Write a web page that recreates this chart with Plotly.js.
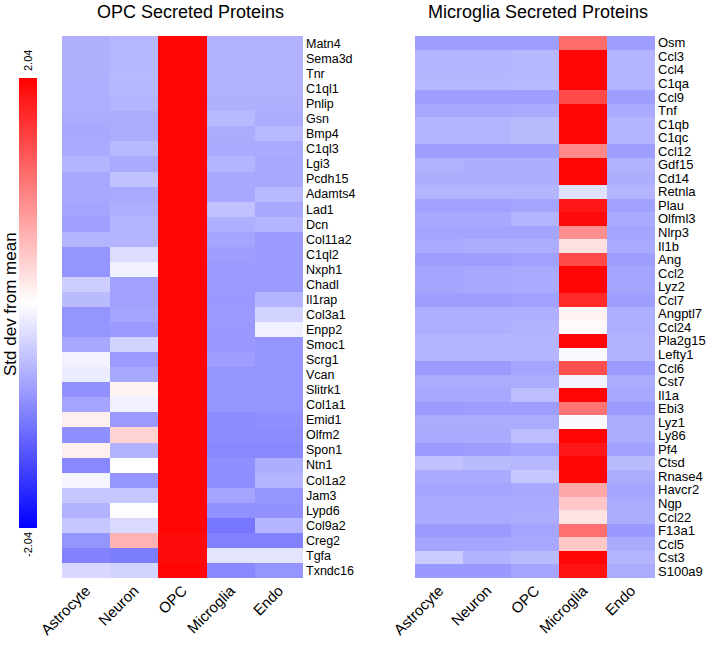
<!DOCTYPE html>
<html><head><meta charset="utf-8">
<script src="https://cdn.plot.ly/plotly-3.0.1.min.js"></script>
<style>html,body{margin:0;padding:0;background:#fff}#c{width:709px;height:646px}</style>
</head><body><div id="c"></div>
<script>
const cellTypes = ["Astrocyte","Neuron","OPC","Microglia","Endo"];

const opcGenes = ["Matn4","Sema3d","Tnr","C1ql1","Pnlip","Gsn","Bmp4","C1ql3","Lgi3","Pcdh15","Adamts4","Lad1","Dcn","Col11a2","C1ql2","Nxph1","Chadl","Il1rap","Col3a1","Enpp2","Smoc1","Scrg1","Vcan","Slitrk1","Col1a1","Emid1","Olfm2","Spon1","Ntn1","Col1a2","Jam3","Lypd6","Col9a2","Creg2","Tgfa","Txndc16"];
const opcValues = [
[-0.63,-0.58,2.0,-0.62,-0.62],
[-0.63,-0.58,2.0,-0.62,-0.62],
[-0.63,-0.57,2.0,-0.62,-0.62],
[-0.64,-0.58,2.0,-0.62,-0.62],
[-0.64,-0.60,2.0,-0.63,-0.63],
[-0.66,-0.66,2.0,-0.56,-0.66],
[-0.70,-0.66,2.0,-0.66,-0.56],
[-0.68,-0.56,2.0,-0.68,-0.68],
[-0.60,-0.68,2.0,-0.60,-0.70],
[-0.70,-0.50,2.0,-0.70,-0.70],
[-0.70,-0.68,2.0,-0.70,-0.56],
[-0.72,-0.64,2.0,-0.50,-0.70],
[-0.76,-0.60,2.0,-0.64,-0.60],
[-0.60,-0.60,2.0,-0.72,-0.80],
[-0.85,-0.28,2.0,-0.78,-0.80],
[-0.85,-0.12,2.0,-0.80,-0.80],
[-0.40,-0.75,2.0,-0.80,-0.80],
[-0.55,-0.75,2.0,-0.82,-0.60],
[-0.85,-0.72,2.0,-0.80,-0.35],
[-0.85,-0.80,2.0,-0.82,-0.12],
[-0.70,-0.35,2.0,-0.82,-0.85],
[-0.10,-0.80,2.0,-0.78,-0.85],
[-0.15,-0.70,2.0,-0.85,-0.85],
[-0.88,0.10,2.0,-0.85,-0.85],
[-0.72,-0.12,2.0,-0.85,-0.85],
[0.12,-0.80,2.0,-0.92,-0.90],
[-0.90,0.35,2.0,-0.92,-0.92],
[0.12,-0.62,2.0,-0.95,-0.95],
[-0.95,0.00,2.0,-0.90,-0.65],
[-0.08,-0.85,2.0,-0.90,-0.60],
[-0.45,-0.45,2.0,-0.72,-0.85],
[-0.62,-0.02,2.0,-0.88,-0.88],
[-0.45,-0.30,2.0,-1.10,-0.60],
[-0.85,0.62,1.95,-1.00,-1.00],
[-1.00,-1.05,1.95,-0.22,-0.22],
[-0.32,-0.35,2.0,-0.95,-0.85]
];

const micGenes = ["Osm","Ccl3","Ccl4","C1qa","Ccl9","Tnf","C1qb","C1qc","Ccl12","Gdf15","Cd14","Retnla","Plau","Olfml3","Nlrp3","Il1b","Ang","Ccl2","Lyz2","Ccl7","Angptl7","Ccl24","Pla2g15","Lefty1","Ccl6","Cst7","Il1a","Ebi3","Lyz1","Ly86","Pf4","Ctsd","Rnase4","Havcr2","Ngp","Ccl22","F13a1","Ccl5","Cst3","S100a9"];
const micValues = [
[-0.78,-0.78,-0.78,1.18,-0.78],
[-0.60,-0.60,-0.58,2.0,-0.60],
[-0.60,-0.60,-0.58,2.0,-0.60],
[-0.58,-0.58,-0.56,2.0,-0.60],
[-0.78,-0.78,-0.78,1.45,-0.78],
[-0.70,-0.70,-0.68,2.0,-0.68],
[-0.60,-0.60,-0.55,2.0,-0.60],
[-0.60,-0.60,-0.55,2.0,-0.60],
[-0.78,-0.78,-0.78,0.95,-0.78],
[-0.62,-0.65,-0.65,2.0,-0.62],
[-0.65,-0.65,-0.65,2.0,-0.65],
[-0.60,-0.60,-0.60,-0.25,-0.60],
[-0.75,-0.75,-0.72,1.85,-0.75],
[-0.70,-0.70,-0.60,1.95,-0.68],
[-0.72,-0.72,-0.72,0.90,-0.72],
[-0.68,-0.65,-0.65,0.25,-0.68],
[-0.78,-0.78,-0.75,1.45,-0.78],
[-0.72,-0.70,-0.68,2.0,-0.72],
[-0.72,-0.70,-0.68,2.0,-0.72],
[-0.78,-0.78,-0.75,1.70,-0.78],
[-0.64,-0.64,-0.64,0.10,-0.64],
[-0.64,-0.64,-0.62,0.05,-0.64],
[-0.60,-0.60,-0.60,2.0,-0.62],
[-0.60,-0.60,-0.60,-0.05,-0.62],
[-0.80,-0.80,-0.72,1.40,-0.80],
[-0.66,-0.66,-0.66,-0.10,-0.66],
[-0.70,-0.70,-0.52,2.0,-0.70],
[-0.80,-0.78,-0.78,1.10,-0.80],
[-0.66,-0.66,-0.66,-0.05,-0.66],
[-0.68,-0.68,-0.52,2.0,-0.66],
[-0.80,-0.78,-0.72,1.85,-0.75],
[-0.50,-0.55,-0.58,2.0,-0.55],
[-0.68,-0.68,-0.45,2.0,-0.66],
[-0.72,-0.72,-0.70,0.70,-0.72],
[-0.68,-0.68,-0.68,0.45,-0.66],
[-0.68,-0.68,-0.66,0.22,-0.66],
[-0.80,-0.80,-0.72,1.15,-0.82],
[-0.72,-0.72,-0.70,0.45,-0.68],
[-0.42,-0.62,-0.55,2.0,-0.60],
[-0.82,-0.82,-0.72,1.90,-0.66]
];

const W = 709, H = 646;
const px = v => v / W, py = v => 1 - v / H;
const FONT = "Liberation Sans, Arial, sans-serif";

const traces = [
  {type:"heatmap", x:cellTypes, y:opcGenes, z:opcValues, coloraxis:"coloraxis", xaxis:"x", yaxis:"y", hoverinfo:"x+y+z"},
  {type:"heatmap", x:cellTypes, y:micGenes, z:micValues, coloraxis:"coloraxis", xaxis:"x2", yaxis:"y2", hoverinfo:"x+y+z"}
];

const xax = d => ({domain:d, tickangle:-45, ticks:"", showgrid:false, zeroline:false, showline:false,
  tickfont:{family:FONT, size:15, color:"#000"}, fixedrange:true});
const yax = (a, size, labels) => ({domain:[py(578), py(36)], anchor:a, side:"right", autorange:"reversed", ticks:"", showgrid:false,
  zeroline:false, showline:false, tickmode:"array", tickvals:labels, ticktext:labels,
  tickfont:{family:FONT, size:size, color:"#000"}, ticklabelstandoff:2});

const ann = (text, x, y, size, angle) => ({text:text, x:px(x), y:py(y), xref:"paper", yref:"paper",
  xanchor:"center", yanchor:"middle", showarrow:false, textangle:angle || 0, font:{size:size, family:FONT, color:"#000"}});

const layout = {
  width:W, height:H, margin:{l:0, r:0, t:0, b:0}, paper_bgcolor:"#fff", plot_bgcolor:"#fff",
  showlegend:false,
  font:{family:FONT, color:"#000"},
  xaxis: Object.assign(xax([px(62), px(303)]), {anchor:"y"}),
  yaxis: yax("x", 12.5, opcGenes),
  xaxis2: Object.assign(xax([px(415), px(655)]), {anchor:"y2"}),
  yaxis2: yax("x2", 13, micGenes),
  coloraxis:{cmin:-2.04, cmax:2.04,
    colorscale:[[0,"rgb(0,0,255)"],[0.5,"rgb(255,255,255)"],[1,"rgb(255,0,0)"]],
    colorbar:{x:px(19), xanchor:"left", xpad:0, ypad:0, y:py(303), yanchor:"middle",
      lenmode:"pixels", len:450, thicknessmode:"pixels", thickness:18, outlinewidth:0,
      showticklabels:false, ticks:""}},
  annotations:[
    ann("OPC Secreted Proteins", 190, 12, 18),
    ann("Microglia Secreted Proteins", 538, 12, 18),
    ann("Std dev from mean", 10, 304, 17, -90),
    ann("2.04", 28, 61, 11, -90),
    ann("-2.04", 28, 545, 11, -90)
  ]
};

Plotly.newPlot("c", traces, layout, {staticPlot:true, displayModeBar:false});
</script>
</body></html>
